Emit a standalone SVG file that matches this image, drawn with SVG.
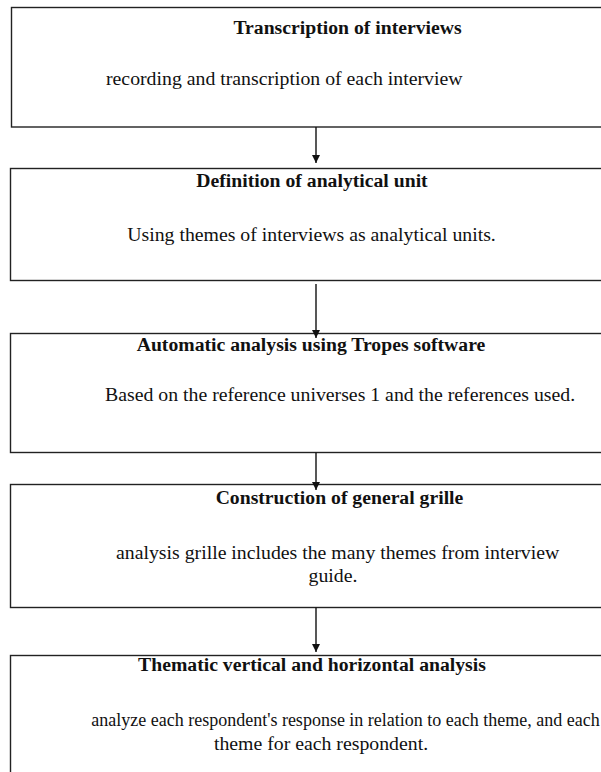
<svg xmlns="http://www.w3.org/2000/svg" width="601" height="772" viewBox="0 0 601 772">
<defs>
<marker id="ah" viewBox="0 0 10 10" refX="10" refY="5" markerWidth="8" markerHeight="8" markerUnits="userSpaceOnUse" orient="auto">
<path d="M0,0 L10,5 L0,10 z" fill="#111"/>
</marker>
<style>
.box{fill:#fff;stroke:#222;stroke-width:1.4}
.t{font-family:"Liberation Serif","Times New Roman",serif;font-size:19.7px;font-weight:bold;fill:#111}
.b{font-family:"Liberation Serif","Times New Roman",serif;font-size:19.8px;fill:#111}
.s{font-family:"Liberation Serif","Times New Roman",serif;font-size:18px;fill:#111}
.c{stroke:#111;stroke-width:1.4;fill:none}
</style>
</defs>
<rect width="601" height="772" fill="#fff"/>
<g id="n1">
<rect class="box" x="11.5" y="7.5" width="620" height="119.5"/>
<text class="t" x="347.5" y="34" text-anchor="middle">Transcription of interviews</text>
<text class="b" x="106" y="85">recording and transcription of each interview</text>
</g>
<g id="n2">
<rect class="box" x="10.5" y="168.5" width="620" height="112"/>
<text class="t" x="312" y="187" text-anchor="middle">Definition of analytical unit</text>
<text class="b" x="311.5" y="241" text-anchor="middle">Using themes of interviews as analytical units.</text>
</g>
<g id="n3">
<rect class="box" x="10.5" y="333.5" width="620" height="119"/>
<text class="t" x="311" y="351" text-anchor="middle">Automatic analysis using Tropes software</text>
<text class="b" x="105" y="401">Based on the reference universes 1 and the references used.</text>
</g>
<g id="n4">
<rect class="box" x="10.5" y="484.5" width="620" height="123"/>
<text class="t" x="339.5" y="504" text-anchor="middle">Construction of general grille</text>
<text class="b" x="116" y="559">analysis grille includes the many themes from  interview</text>
<text class="b" x="333" y="582" text-anchor="middle">guide.</text>
</g>
<g id="n5">
<rect class="box" x="10.5" y="655.5" width="620" height="140"/>
<text class="t" x="312" y="671" text-anchor="middle">Thematic vertical and horizontal analysis</text>
<text class="s" x="345.5" y="726" text-anchor="middle">analyze each respondent's response in relation to each theme, and each</text>
<text class="b" x="321" y="750" text-anchor="middle">theme for each respondent.</text>
</g>
<g id="connectors">
<line class="c" x1="316" y1="127" x2="316" y2="163" marker-end="url(#ah)"/>
<line class="c" x1="316" y1="284" x2="316" y2="338" marker-end="url(#ah)"/>
<line class="c" x1="316" y1="452.5" x2="316" y2="490" marker-end="url(#ah)"/>
<line class="c" x1="316" y1="607.5" x2="316" y2="652" marker-end="url(#ah)"/>
</g>
</svg>
